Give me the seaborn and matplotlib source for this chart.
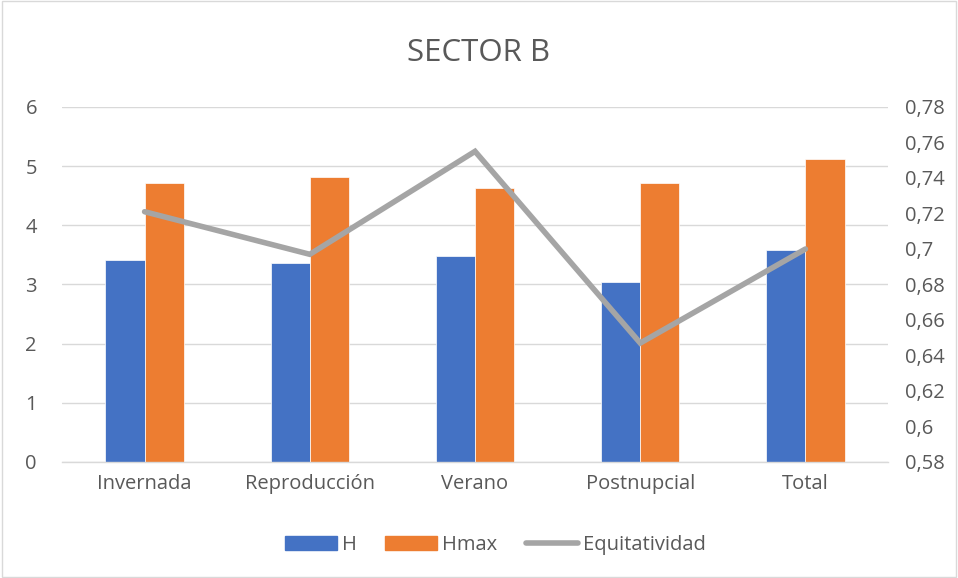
import matplotlib
matplotlib.use("Agg")
import matplotlib.pyplot as plt
import seaborn as sns
import pandas as pd
from matplotlib.patches import Rectangle

categories = ["Invernada", "Reproducción", "Verano", "Postnupcial", "Total"]
h_values = [3.41, 3.36, 3.48, 3.04, 3.58]
hmax_values = [4.71, 4.81, 4.63, 4.71, 5.12]
equitatividad = [0.721, 0.697, 0.755, 0.647, 0.700]

left_ticks = [0, 1, 2, 3, 4, 5, 6]
right_ticks = [0.58, 0.60, 0.62, 0.64, 0.66, 0.68, 0.70, 0.72, 0.74, 0.76, 0.78]
right_labels = ["0,58", "0,6", "0,62", "0,64", "0,66", "0,68", "0,7", "0,72", "0,74", "0,76", "0,78"]

sns.set_style("white")
plt.rcParams["font.family"] = ["Open Sans", "DejaVu Sans"]

TXT = "#595959"
GRID = "#D9D9D9"

bars = pd.DataFrame({
    "cat": categories * 2,
    "serie": ["H"] * 5 + ["Hmax"] * 5,
    "valor": h_values + hmax_values,
})

fig = plt.figure(figsize=(9.58, 5.78), dpi=100)
fig.patches.append(Rectangle((0.002, 0.002), 0.996, 0.996, transform=fig.transFigure,
                             fill=False, edgecolor=GRID, linewidth=1))
ax = fig.add_axes([0.0647, 0.2007, 0.8623, 0.6142])

sns.barplot(data=bars, x="cat", y="valor", hue="serie", order=categories,
            palette={"H": "#4472C4", "Hmax": "#ED7D31"}, width=0.475,
            ax=ax, legend=False, saturation=1, edgecolor="white", linewidth=0.5)

ax.set_ylim(0, 6)
ax.set_yticks(left_ticks)
ax.set_xlim(-0.5, 4.5)
ax.yaxis.grid(True, color=GRID, linewidth=1)
ax.set_axisbelow(True)
for s in ["top", "left", "right"]:
    ax.spines[s].set_visible(False)
ax.spines["bottom"].set_color(GRID)
ax.spines["bottom"].set_linewidth(1)
ax.tick_params(axis="both", length=0, labelsize=14.5, colors=TXT, pad=9)
ax.tick_params(axis="y", pad=18)
ax.set_xlabel("")
ax.set_ylabel("")

ax2 = ax.twinx()
sns.lineplot(x=list(range(5)), y=equitatividad, ax=ax2, color="#A5A5A5",
             linewidth=4, solid_capstyle="round", solid_joinstyle="miter")
ax2.set_ylim(0.58, 0.78)
ax2.set_yticks(right_ticks)
ax2.set_yticklabels(right_labels)
for s in ["top", "left", "right", "bottom"]:
    ax2.spines[s].set_visible(False)
ax2.tick_params(axis="y", length=0, labelsize=14.5, colors=TXT, pad=12)

fig.suptitle("SECTOR B", x=0.5, y=0.935, fontsize=22.5, color=TXT)

handles = [
    Rectangle((0, 0), 1, 1, color="#4472C4"),
    Rectangle((0, 0), 1, 1, color="#ED7D31"),
    plt.Line2D([0], [0], color="#A5A5A5", linewidth=4, solid_capstyle="round"),
]
fig.legend(handles, ["H", "Hmax", "Equitatividad"], loc="center", bbox_to_anchor=(0.517, 0.057),
           ncol=3, frameon=False, fontsize=14.5, labelcolor=TXT, handlelength=2.6,
           handleheight=0.75, handletextpad=0.25, columnspacing=1.4)

fig.savefig("out.png", dpi=100)
